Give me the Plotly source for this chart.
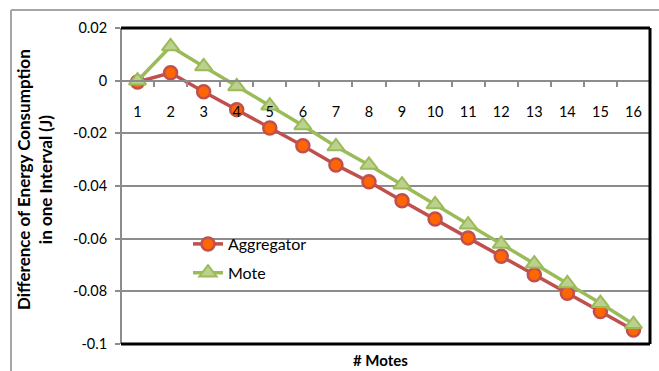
import plotly.graph_objects as go

# Number of motes (x categories)
motes = list(range(1, 17))

# Difference of energy consumption per interval (J)
aggregator = [-0.0005, 0.003, -0.0042, -0.011, -0.018, -0.0247, -0.032, -0.0384,
              -0.0456, -0.0525, -0.0597, -0.0667, -0.0737, -0.0807, -0.0877, -0.0947]
mote = [0.0, 0.013, 0.0054, -0.0022, -0.0095, -0.017, -0.025, -0.032,
        -0.0395, -0.047, -0.0547, -0.062, -0.0695, -0.077, -0.0845, -0.0925]

y_tickvals = [0.02, 0.0, -0.02, -0.04, -0.06, -0.08, -0.1]
y_ticktext = ["0.02", "0", "-0.02", "-0.04", "-0.06", "-0.08", "-0.1"]

FONT = "Lato"
GRID = "#8c8c8c"

fig = go.Figure()

fig.add_trace(go.Scatter(
    x=motes, y=aggregator, name="Aggregator", mode="lines+markers",
    line=dict(color="#C0504D", width=3.5),
    marker=dict(symbol="circle", size=13, color="#FF6600",
                line=dict(color="#C0504D", width=2.5)),
    legendgroup="agg", showlegend=True,
))
fig.add_trace(go.Scatter(
    x=motes, y=mote, name="Mote", mode="lines+markers",
    line=dict(color="#9BBB59", width=3.5),
    marker=dict(symbol="triangle-up", size=15, color="#BDD18E",
                line=dict(color="#9BBB59", width=2)),
    legendgroup="mote", showlegend=True,
))

L, R, T, B = 121, 9, 28, 27
W, H = 659, 371
ph = H - T - B
pw = W - L - R

def py(pix):
    return (H - B - pix) / ph

def px(pix):
    return (pix - L) / pw

shapes = [
    # plot-area frame (top, right, bottom)
    dict(type="line", xref="paper", yref="paper", x0=0, x1=1, y0=1, y1=1,
         line=dict(color="black", width=3)),
    dict(type="line", xref="paper", yref="paper", x0=1, x1=1, y0=0, y1=1,
         line=dict(color="black", width=3)),
    dict(type="line", xref="paper", yref="paper", x0=0, x1=1, y0=0, y1=0,
         line=dict(color="black", width=3)),
    # outer chart frame
    dict(type="line", xref="paper", yref="paper", x0=px(11), x1=px(700),
         y0=py(10), y1=py(10), line=dict(color="#a6a6a6", width=2)),
    dict(type="line", xref="paper", yref="paper", x0=px(11), x1=px(11),
         y0=py(10), y1=py(400), line=dict(color="#a6a6a6", width=2)),
]

fig.update_layout(
    width=W, height=H,
    margin=dict(l=L, r=R, t=T, b=B, pad=0),
    paper_bgcolor="white", plot_bgcolor="white",
    font=dict(family=FONT, size=14, color="black"),
    shapes=shapes,
    showlegend=True,
    xaxis=dict(
        range=[0.5, 16.5], tickvals=motes, ticktext=[str(m) for m in motes],
        anchor="free", position=py(81),
        showline=True, linecolor=GRID, linewidth=2,
        showgrid=False, zeroline=False, ticks="",
        ticklabelstandoff=18,
        tickfont=dict(family=FONT, size=14.5, color="black"),
        minor=dict(tick0=0.5, dtick=1, ticks="outside", ticklen=5,
                   tickcolor=GRID, tickwidth=1.5, showgrid=False),
    ),
    yaxis=dict(
        range=[-0.1, 0.02], tickvals=y_tickvals, ticktext=y_ticktext,
        anchor="free", position=0,
        showline=True, linecolor=GRID, linewidth=2,
        showgrid=True, gridcolor=GRID, gridwidth=2, zeroline=False,
        ticks="outside", ticklen=5, tickcolor=GRID, tickwidth=1.5,
        ticklabelstandoff=5,
        tickfont=dict(family=FONT, size=14.5, color="black"),
    ),
    legend=dict(x=px(188), y=py(227), xanchor="left", yanchor="top",
                traceorder="grouped", tracegroupgap=5,
                bgcolor="rgba(0,0,0,0)", borderwidth=0,
                font=dict(family=FONT, size=16, color="black")),
    annotations=[
        dict(text="<b>Difference of Energy Consumption<br>in one Interval (J)</b>",
             xref="paper", yref="paper", x=px(34), y=py(180),
             xanchor="center", yanchor="middle", textangle=-90,
             showarrow=False, font=dict(family=FONT, size=17, color="black")),
        dict(text="<b># Motes</b>", xref="paper", yref="paper",
             x=px(380), y=py(360), xanchor="center", yanchor="middle",
             showarrow=False, font=dict(family=FONT, size=15, color="black")),
    ],
)

fig.write_html("out.html")
